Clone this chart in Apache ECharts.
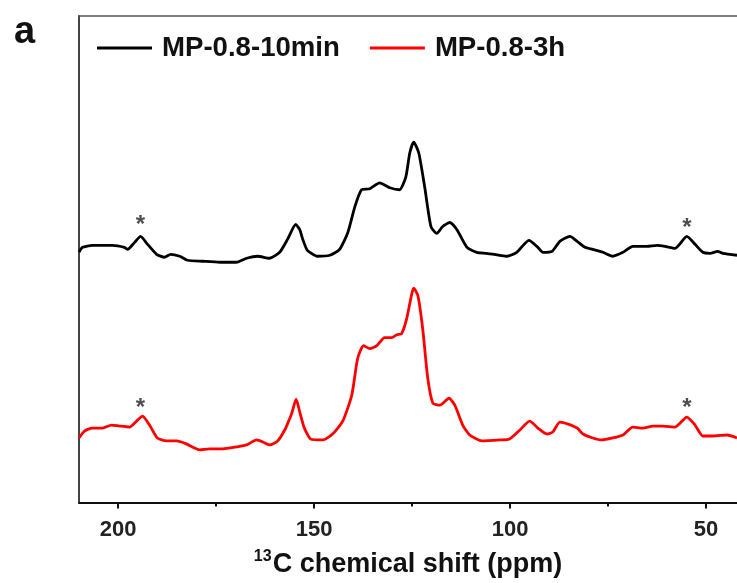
<!DOCTYPE html>
<html><head><meta charset="utf-8">
<script src="https://cdn.jsdelivr.net/npm/echarts@6/dist/echarts.min.js"></script>
<style>html,body{margin:0;padding:0;background:#fff}#c{width:737px;height:583px}</style>
</head><body><div id="c"></div>
<script>
// chemical shift (ppm) and intensity (a.u., stacked offset included)
const shift10min = [210,209.1,206.6,201.5,198.4,197.6,195.8,194.3,192.5,190.2,188.2,186.6,184.3,182.3,178.5,174.1,169.8,167.2,164.4,161.4,158.8,156.8,154.7,153.7,152.9,151.9,151.1,149.3,146.0,143.5,141.4,139.6,137.9,135.8,133.3,130.7,128.2,126.6,125.6,124.6,123.3,121.8,120.2,118.7,117.2,115.4,113.6,111.0,108.5,106.0,102.6,100.8,98.3,95.2,92.9,91.6,89.3,87.3,84.7,82.9,80.9,78.9,76.3,73.8,71.2,68.7,65.1,62.5,60.5,57.9,54.9,52.8,50.8,49.0,47.0,45.7,42.1];
const intensity10min = [252,257,259,259,257,255,262,268,260,250,247,250,248,244,243,242,242,246,248,246,252,265,280,275,265,255,252,248,249,255,272,298,315,316,322,317,315,328,352,363,352,318,278,271,278,282,275,257,252,251,249,248,252,264,257,252,253,263,268,263,257,255,252,248,252,258,258,259,258,256,268,260,252,251,253,251,249];
const shift3h = [210,208.6,206.6,204.0,201.7,199.7,197.1,195.3,193.8,192.0,190.0,187.7,185.1,182.6,179.2,176.7,173.3,169.8,167.2,164.7,163.1,161.4,159.3,157.5,156.5,155.7,154.6,153.6,152.6,151.9,150.9,147.8,145.3,142.7,140.4,138.9,137.4,135.8,134.0,132.0,130.2,128.9,127.7,126.4,125.1,124.6,123.5,122.3,121.0,119.7,117.9,115.6,114.1,112.1,110.3,107.2,102.6,100.1,97.5,95.0,92.9,90.6,89.1,87.3,85.2,82.9,81.4,78.9,76.6,73.8,71.2,68.7,66.1,63.6,61.0,57.9,54.9,52.8,50.8,48.2,44.6,42.1];
const intensity3h = [65,72,75,75,78,77,76,82,87,78,65,62,62,59,53,54,54,56,58,63,61,58,62,73,82,90,104,90,76,70,64,63,69,82,108,145,158,155,158,166,166,169,170,185,210,216,208,175,125,100,98,105,98,78,68,62,63,64,73,82,75,69,71,81,79,75,69,65,63,65,68,76,75,77,77,76,86,78,67,67,68,65];
// spinning side bands marked with asterisks
const sidebandShift = [194.3, 54.9];
const sideband10minY = [285, 282];
const sideband3hY = [101, 101];
const seriesNames = ['MP-0.8-10min', 'MP-0.8-3h'];
const xLabels = [200, 150, 100, 50];
const xMinor = [175, 125, 75];

const FONT = 'Arial, "Liberation Sans", sans-serif';
const chart = echarts.init(document.getElementById('c'), null, {renderer: 'canvas'});
const zip = (a, b) => a.map((v, i) => [v, b[i]]);
const star = (xs, ys) => xs.map((v, i) => [v, ys[i]]);
const X_MIN = 42.1, X_MAX = 210;

chart.setOption({
  animation: false,
  backgroundColor: '#fff',
  grid: {left: 79, right: 0, top: 16, bottom: 77, containLabel: false},
  legend: {
    left: 97, top: 34, padding: 0, itemWidth: 55, itemHeight: 3, itemGap: 30, icon: 'rect',
    textStyle: {fontFamily: FONT, fontSize: 27.6, fontWeight: 'bold', color: '#111', padding: [0, 0, 0, 5]},
    data: seriesNames
  },
  xAxis: [
    {
      type: 'value', min: X_MIN, max: X_MAX, inverse: true, position: 'bottom',
      axisLine: {show: true, lineStyle: {color: '#111', width: 2}},
      axisTick: {show: true, customValues: xLabels, length: 6, lineStyle: {color: '#111', width: 2}},
      axisLabel: {show: true, customValues: xLabels, fontFamily: FONT, fontSize: 22, fontWeight: 'bold', color: '#222', margin: 16},
      splitLine: {show: false},
      name: '{sup|13}{main|C chemical shift (ppm)}', nameLocation: 'middle', nameGap: 46,
      nameTextStyle: {rich: {
        sup: {fontFamily: FONT, fontSize: 16, fontWeight: 'bold', color: '#111', padding: [0, 1, 16, 0]},
        main: {fontFamily: FONT, fontSize: 27, fontWeight: 'bold', color: '#111'}
      }}
    },
    {
      type: 'value', min: X_MIN, max: X_MAX, inverse: true, position: 'bottom',
      axisLine: {show: false},
      axisTick: {show: true, customValues: xMinor, length: 4, lineStyle: {color: '#111', width: 2}},
      axisLabel: {show: false}, splitLine: {show: false}
    },
    {
      type: 'value', min: X_MIN, max: X_MAX, inverse: true, position: 'top',
      axisLine: {show: true, lineStyle: {color: '#555', width: 1.5}},
      axisTick: {show: false}, axisLabel: {show: false}, splitLine: {show: false}
    }
  ],
  yAxis: {
    type: 'value', min: 0, max: 490,
    axisLine: {show: true, lineStyle: {color: '#444', width: 2}},
    axisTick: {show: false}, axisLabel: {show: false}, splitLine: {show: false}
  },
  series: [
    {name: seriesNames[0], type: 'line', data: zip(shift10min, intensity10min), showSymbol: false, smooth: 0.2,
     color: '#000', lineStyle: {color: '#000', width: 2.8}},
    {name: seriesNames[1], type: 'line', data: zip(shift3h, intensity3h), showSymbol: false, smooth: 0.2,
     color: '#ff0000', lineStyle: {color: '#ff0000', width: 2.8}},
    {type: 'scatter', data: star(sidebandShift, sideband10minY).concat(star(sidebandShift, sideband3hY)),
     symbolSize: 1, itemStyle: {color: 'rgba(0,0,0,0)'}, silent: true,
     label: {show: true, position: 'inside', formatter: '*', fontFamily: FONT, fontSize: 24, fontWeight: 'bold', color: '#222', offset: [0, 6]}}
  ],
  graphic: [
    {type: 'text', left: 14, top: 14, style: {text: 'a', fontFamily: FONT, fontSize: 38, fontWeight: 'bold', fill: '#111'}}
  ]
});
</script></body></html>
